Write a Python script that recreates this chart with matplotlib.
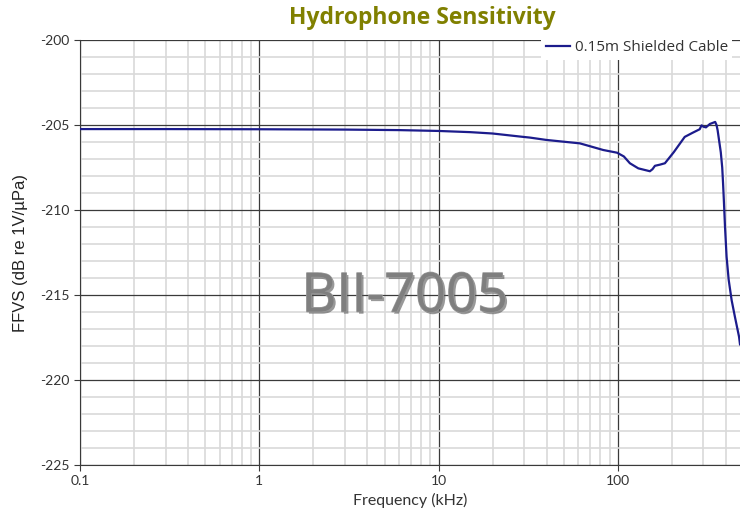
import matplotlib.pyplot as plt
import matplotlib.patheffects as pe
from matplotlib.ticker import LogLocator, MultipleLocator, FixedLocator, NullFormatter

plt.rcParams['axes.unicode_minus'] = False

# Sensitivity curve
freq_khz = [0.1, 0.3, 1, 3, 6, 10, 15, 20, 28.5, 32.3, 40, 49.6, 61.4, 70, 82.8,
            99, 108, 116.7, 130, 150.9, 156, 161, 172, 183, 205, 236, 262, 286,
            293, 300, 310, 326, 349, 355, 360, 368, 375, 382, 386, 390, 396, 404,
            415, 431, 450, 474, 480]
ffvs_db = [-205.24, -205.24, -205.25, -205.27, -205.3, -205.35, -205.42, -205.5,
           -205.68, -205.74, -205.88, -205.98, -206.08, -206.25, -206.47,
           -206.63, -206.85, -207.25, -207.55, -207.72, -207.6, -207.4, -207.33,
           -207.25, -206.6, -205.7, -205.45, -205.25, -205.02, -205.1, -205.14,
           -204.94, -204.82, -205.0, -205.3, -206.0, -206.6, -207.5, -208.4,
           -209.4, -211.0, -212.75, -214.1, -215.3, -216.3, -217.45, -217.9]

series_name = '0.15m Shielded Cable'
x_ticks = [0.1, 1, 10, 100]
x_tick_labels = ['0.1', '1', '10', '100']
y_ticks = [-225, -220, -215, -210, -205, -200]

fig = plt.figure(figsize=(7.4, 5.16), dpi=100)
ax = fig.add_axes([80 / 740, 1 - 465 / 516, 1 - 80 / 740, (465 - 40) / 516])

ax.plot(freq_khz, ffvs_db, color='#1c1c8c', lw=1.6, zorder=3)

ax.set_xscale('log')
ax.set_xlim(0.1, 480)
ax.set_ylim(-225, -200)

ax.xaxis.set_major_locator(FixedLocator(x_ticks))
ax.set_xticklabels(x_tick_labels)
ax.xaxis.set_minor_locator(LogLocator(base=10, subs=range(2, 10)))
ax.xaxis.set_minor_formatter(NullFormatter())
ax.yaxis.set_major_locator(FixedLocator(y_ticks))
ax.yaxis.set_minor_locator(MultipleLocator(1))

ax.grid(which='minor', color='#d9d9d9', lw=1.2, zorder=0)
ax.grid(which='major', color='#3a3a3a', lw=0.9, zorder=1)
ax.set_axisbelow(True)

for s in ['top', 'right']:
    ax.spines[s].set_visible(False)
ax.spines['left'].set_color('#3a3a3a')
ax.spines['bottom'].set_color('#3a3a3a')
ax.tick_params(which='major', direction='out', length=4, color='#3a3a3a',
               labelsize=10, labelcolor='#333333')
ax.tick_params(which='minor', length=0)
for lab in ax.get_xticklabels() + ax.get_yticklabels():
    lab.set_family('Lato')

ax.set_xlabel('Frequency (kHz)', family='Lato', fontsize=11.5, color='#333333', labelpad=4)
ax.set_ylabel('FFVS (dB re 1V/µPa)', family='Liberation Sans', fontsize=12, color='#222222', labelpad=9)

fig.text(0.571, 0.965, 'Hydrophone Sensitivity', ha='center', va='center',
         family='Open Sans', fontweight='bold', fontsize=16.5, color='#808000')

# watermark
ax.text(0.492, 0.395, 'BII-7005', transform=ax.transAxes, ha='center', va='center',
        fontsize=39, color='#7f7f7f', family='Open Sans', zorder=2,
        path_effects=[pe.withSimplePatchShadow(offset=(1.5, -1.5), shadow_rgbFace='#555555', alpha=0.6),
                      pe.Stroke(linewidth=1, foreground='#9a9a9a'), pe.Normal()])

leg = ax.legend([ax.lines[0]], [series_name], loc='upper right',
                bbox_to_anchor=(1.0, 1 - 28 / 516), bbox_transform=fig.transFigure,
                frameon=True, fancybox=False, framealpha=1, edgecolor='white',
                handlelength=1.6, handletextpad=0.3, borderpad=0.3,
                prop={'family': 'Open Sans', 'size': 11})
leg.get_frame().set_linewidth(0)
for t in leg.get_texts():
    t.set_color('#333333')

fig.savefig('out.png', dpi=100)
